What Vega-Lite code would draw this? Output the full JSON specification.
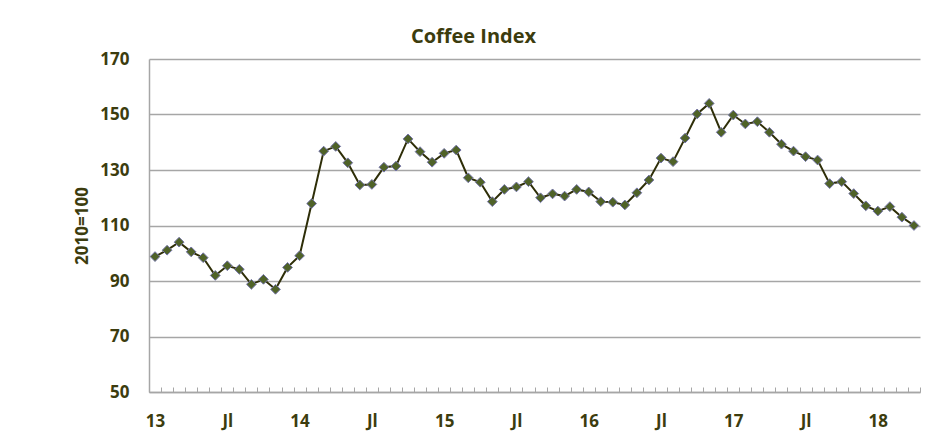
{
  "$schema": "https://vega.github.io/schema/vega-lite/v6.json",
  "width": 771,
  "height": 333,
  "autosize": {"type": "none"},
  "padding": {"left": 149, "top": 59, "right": 23, "bottom": 54},
  "background": "white",
  "config": {
    "view": {"stroke": null},
    "font": "Open Sans"
  },
  "title": {
    "text": "Coffee Index",
    "font": "Open Sans",
    "fontSize": 20,
    "fontWeight": "bold",
    "color": "#3c3c0e",
    "anchor": "middle",
    "baseline": "alphabetic",
    "offset": -13,
    "dx": -61
  },
  "data": {
    "values": [
      {"m": "2013-01", "v": 98.8}, {"m": "2013-02", "v": 101.1}, {"m": "2013-03", "v": 104.0}, {"m": "2013-04", "v": 100.5},
      {"m": "2013-05", "v": 98.4}, {"m": "2013-06", "v": 92.0}, {"m": "2013-07", "v": 95.5}, {"m": "2013-08", "v": 94.2},
      {"m": "2013-09", "v": 88.8}, {"m": "2013-10", "v": 90.6}, {"m": "2013-11", "v": 87.0}, {"m": "2013-12", "v": 94.9},
      {"m": "2014-01", "v": 99.1}, {"m": "2014-02", "v": 117.9}, {"m": "2014-03", "v": 136.8}, {"m": "2014-04", "v": 138.5},
      {"m": "2014-05", "v": 132.6}, {"m": "2014-06", "v": 124.6}, {"m": "2014-07", "v": 124.8}, {"m": "2014-08", "v": 131.0},
      {"m": "2014-09", "v": 131.4}, {"m": "2014-10", "v": 141.2}, {"m": "2014-11", "v": 136.6}, {"m": "2014-12", "v": 132.8},
      {"m": "2015-01", "v": 136.0}, {"m": "2015-02", "v": 137.2}, {"m": "2015-03", "v": 127.2}, {"m": "2015-04", "v": 125.6},
      {"m": "2015-05", "v": 118.6}, {"m": "2015-06", "v": 123.0}, {"m": "2015-07", "v": 123.9}, {"m": "2015-08", "v": 125.8},
      {"m": "2015-09", "v": 120.0}, {"m": "2015-10", "v": 121.4}, {"m": "2015-11", "v": 120.6}, {"m": "2015-12", "v": 123.0},
      {"m": "2016-01", "v": 122.1}, {"m": "2016-02", "v": 118.6}, {"m": "2016-03", "v": 118.4}, {"m": "2016-04", "v": 117.4},
      {"m": "2016-05", "v": 121.8}, {"m": "2016-06", "v": 126.4}, {"m": "2016-07", "v": 134.3}, {"m": "2016-08", "v": 133.0},
      {"m": "2016-09", "v": 141.5}, {"m": "2016-10", "v": 150.2}, {"m": "2016-11", "v": 154.0}, {"m": "2016-12", "v": 143.6},
      {"m": "2017-01", "v": 149.8}, {"m": "2017-02", "v": 146.6}, {"m": "2017-03", "v": 147.4}, {"m": "2017-04", "v": 143.6},
      {"m": "2017-05", "v": 139.3}, {"m": "2017-06", "v": 136.8}, {"m": "2017-07", "v": 134.8}, {"m": "2017-08", "v": 133.6},
      {"m": "2017-09", "v": 125.1}, {"m": "2017-10", "v": 125.8}, {"m": "2017-11", "v": 121.5}, {"m": "2017-12", "v": 117.1},
      {"m": "2018-01", "v": 115.2}, {"m": "2018-02", "v": 116.8}, {"m": "2018-03", "v": 113.0}, {"m": "2018-04", "v": 110.0}
    ]
  },
  "encoding": {
    "x": {
      "field": "m",
      "type": "ordinal",
      "scale": {"paddingInner": 0, "paddingOuter": 0},
      "axis": {
        "title": null,
        "labelAngle": 0,
        "labelExpr": "substring(datum.value,5,7)=='01' ? substring(datum.value,2,4) : (substring(datum.value,5,7)=='07' ? 'Jl' : '')",
        "labelFont": "Open Sans",
        "labelFontSize": 17,
        "labelFontWeight": "bold",
        "labelColor": "#3c3c0e",
        "labelPadding": 26,
        "labelOverlap": false,
        "tickBand": "extent",
        "tickSize": -5,
        "tickColor": "#a6a6a6",
        "tickWidth": 1,
        "domainColor": "#a6a6a6",
        "domainWidth": 1.5,
        "grid": false
      }
    },
    "y": {
      "field": "v",
      "type": "quantitative",
      "scale": {"domain": [50, 170], "nice": false, "zero": false},
      "axis": {
        "title": "2010=100",
        "titleFont": "Open Sans",
        "titleFontSize": 17,
        "titleFontWeight": "bold",
        "titleColor": "#3c3c0e",
        "titlePadding": 8,
        "values": [50, 70, 90, 110, 130, 150, 170],
        "labelFont": "Open Sans",
        "labelFontSize": 17,
        "labelFontWeight": "bold",
        "labelColor": "#3c3c0e",
        "labelPadding": 20,
        "ticks": false,
        "grid": true,
        "gridColor": "#a6a6a6",
        "gridWidth": 1.5,
        "domainColor": "#a6a6a6",
        "domainWidth": 1.5
      }
    }
  },
  "layer": [
    {"mark": {"type": "line", "color": "#2e2e08", "strokeWidth": 2}},
    {"mark": {"type": "point", "shape": "diamond", "filled": true, "size": 95, "fill": "#4f6228", "stroke": "#7474a8", "strokeWidth": 1, "opacity": 1}}
  ]
}
